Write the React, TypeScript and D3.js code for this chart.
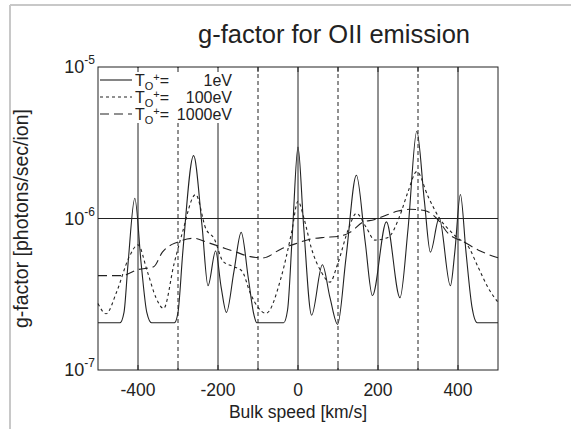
import React from "react";
import * as d3 from "d3";

// bulk speed [km/s] and g-factor [photons/sec/ion]
const speed1eV = [-500, -445, -435, -425, -408, -392, -378, -366, -309, -300, -288, -261, -240, -225, -206, -192, -179, -160, -142, -124, -110, -103, -36, -26, -14, 0, 14, 34, 61, 80, 99, 120, 146, 168, 186, 221, 255, 275, 297, 316, 331, 353, 381, 392, 406, 420, 435, 448, 500];
const g1eV = [2.05e-7, 2.05e-7, 2.4e-7, 5e-7, 1.36e-6, 5e-7, 2.4e-7, 2.05e-7, 2.05e-7, 2.4e-7, 6e-7, 2.6e-6, 9e-7, 3.6e-7, 6.1e-7, 3.5e-7, 2.4e-7, 4.5e-7, 8.1e-7, 4e-7, 2.3e-7, 2.05e-7, 2.05e-7, 2.5e-7, 8e-7, 2.96e-6, 9e-7, 2.3e-7, 4.95e-7, 3e-7, 2.0e-7, 5.5e-7, 1.93e-6, 7e-7, 3.1e-7, 9.5e-7, 3.0e-7, 8.5e-7, 3.77e-6, 1.3e-6, 6.0e-7, 1.01e-6, 3.6e-7, 6e-7, 1.44e-6, 6e-7, 2.6e-7, 2.05e-7, 2.05e-7];

const speed100eV = [-500, -480, -453, -423, -400, -377, -355, -336, -310, -290, -256, -230, -210, -187, -160, -140, -119, -80, -42, -16, 0, 15, 34, 57, 80, 99, 126, 146, 171, 192, 225, 255, 275, 297, 325, 354, 384, 400, 423, 450, 475, 500];
const g100eV = [2.75e-7, 2.35e-7, 3.3e-7, 5.5e-7, 6.7e-7, 4.5e-7, 3.0e-7, 2.55e-7, 5.0e-7, 7.9e-7, 1.44e-6, 8.5e-7, 7.4e-7, 5.2e-7, 4.8e-7, 4.5e-7, 3.2e-7, 2.37e-7, 4.1e-7, 8.1e-7, 1.3e-6, 1.0e-6, 6.3e-7, 4.5e-7, 3.8e-7, 5.0e-7, 8.5e-7, 1.08e-6, 8.7e-7, 7.2e-7, 7.5e-7, 1.05e-6, 1.5e-6, 2.04e-6, 1.4e-6, 1.0e-6, 8.1e-7, 7.4e-7, 6.7e-7, 4.8e-7, 3.5e-7, 2.8e-7];

const speed1000eV = [-500, -440, -400, -361, -339, -300, -260, -230, -201, -155, -119, -87, -42, -7, 30, 64, 100, 130, 164, 190, 220, 250, 280, 316, 347, 377, 415, 450, 500];
const g1000eV = [4.2e-7, 4.2e-7, 4.6e-7, 4.8e-7, 6.0e-7, 7.0e-7, 7.4e-7, 7.0e-7, 6.6e-7, 6.0e-7, 5.6e-7, 5.5e-7, 6.3e-7, 6.8e-7, 7.3e-7, 7.5e-7, 7.6e-7, 8.1e-7, 9.5e-7, 9.8e-7, 1.05e-6, 1.12e-6, 1.15e-6, 1.13e-6, 1.0e-6, 7.9e-7, 7.0e-7, 6.2e-7, 5.5e-7];

const xTicks = [-400, -200, 0, 200, 400];
const solidMarks = [-400, -200, 0, 200, 400];
const dashedMarks = [-300, -100, 100, 300];
const yTicks = [1e-5, 1e-6, 1e-7];
const yExponents = ["-5", "-6", "-7"];
const legendValues = ["1eV", "100eV", "1000eV"];

const W = 571;
const H = 429;
const margin = { top: 67, right: 73, bottom: 59, left: 98 };
const font = "'Liberation Sans', Arial, sans-serif";

export default function App() {
  const x = d3.scaleLinear().domain([-500, 500]).range([margin.left, W - margin.right]);
  const y = d3.scaleLog().domain([1e-7, 1e-5]).range([H - margin.bottom, margin.top]);

  const line = d3
    .line<[number, number]>()
    .x((d) => x(d[0]))
    .y((d) => y(d[1]))
    .curve(d3.curveMonotoneX);

  const series = [
    { xs: speed1eV, ys: g1eV, dash: "none" },
    { xs: speed100eV, ys: g100eV, dash: "3,3" },
    { xs: speed1000eV, ys: g1000eV, dash: "9,5" },
  ];

  const x0 = margin.left;
  const x1 = W - margin.right;
  const y0 = margin.top;
  const y1 = H - margin.bottom;
  const ink = "#222";

  return (
    <svg width={W} height={H} style={{ position: "absolute", left: 0, top: 0, background: "#fff" }} fontFamily={font}>
      {/* frame of the scanned figure */}
      <line x1={10} y1={5} x2={W} y2={5} stroke="#c8c8c8" strokeWidth={2} />
      <line x1={10} y1={5} x2={10} y2={H} stroke="#c8c8c8" strokeWidth={2} />

      <text x={334} y={43} fontSize={25.5} textAnchor="middle" fill={ink}>
        g-factor for OII emission
      </text>

      {solidMarks.map((v) => (
        <line key={"s" + v} x1={x(v)} x2={x(v)} y1={y0} y2={y1} stroke={ink} strokeWidth={1} />
      ))}
      {dashedMarks.map((v) => (
        <line key={"d" + v} x1={x(v)} x2={x(v)} y1={y0} y2={y1} stroke={ink} strokeWidth={1} strokeDasharray="4,3" />
      ))}
      <line x1={x0} x2={x1} y1={y(1e-6)} y2={y(1e-6)} stroke={ink} strokeWidth={1} />

      {series.map((s, i) => (
        <path
          key={i}
          d={line(s.xs.map((v, j) => [v, s.ys[j]] as [number, number])) || ""}
          fill="none"
          stroke={ink}
          strokeWidth={1.1}
          strokeDasharray={s.dash}
        />
      ))}

      {/* legend */}
      <rect x={x0 + 1} y={y0 + 1} width={137} height={55} fill="#fff" />
      {legendValues.map((v, i) => {
        const ry = 80 + i * 17;
        return (
          <g key={v}>
            <line x1={100} x2={132} y1={ry} y2={ry} stroke={ink} strokeWidth={1.1} strokeDasharray={series[i].dash} />
            <text x={135} y={ry + 6} fontSize={16} fill={ink}>
              T<tspan fontSize={11} dy={4}>O</tspan>
              <tspan fontSize={11} dy={-9}>+</tspan>
              <tspan dy={5}>=</tspan>
            </text>
            <text x={232} y={ry + 6} fontSize={16} fill={ink} textAnchor="end">
              {v}
            </text>
          </g>
        );
      })}

      {/* axes box and ticks */}
      <rect x={x0} y={y0} width={x1 - x0} height={y1 - y0} fill="none" stroke={ink} strokeWidth={1} />
      {d3.range(-400, 500, 100).map((v) => (
        <g key={"t" + v}>
          <line x1={x(v)} x2={x(v)} y1={y1} y2={y1 - 5} stroke={ink} />
          <line x1={x(v)} x2={x(v)} y1={y0} y2={y0 + 5} stroke={ink} />
        </g>
      ))}
      {xTicks.map((v) => (
        <text key={"xl" + v} x={x(v)} y={y1 + 26} fontSize={17.5} textAnchor="middle" fill={ink}>
          {v}
        </text>
      ))}
      {yTicks.map((v, i) => (
        <text key={"yl" + i} x={x0 - 3} y={y(v) + 6} fontSize={18} textAnchor="end" fill={ink}>
          10<tspan fontSize={12} dy={-9}>{yExponents[i]}</tspan>
        </text>
      ))}

      <text x={298} y={H - 11} fontSize={17.5} textAnchor="middle" fill={ink}>
        Bulk speed [km/s]
      </text>
      <text
        transform={`translate(28, ${(y0 + y1) / 2}) rotate(-90)`}
        fontSize={19.5}
        textAnchor="middle"
        fill={ink}
      >
        g-factor [photons/sec/ion]
      </text>
    </svg>
  );
}
